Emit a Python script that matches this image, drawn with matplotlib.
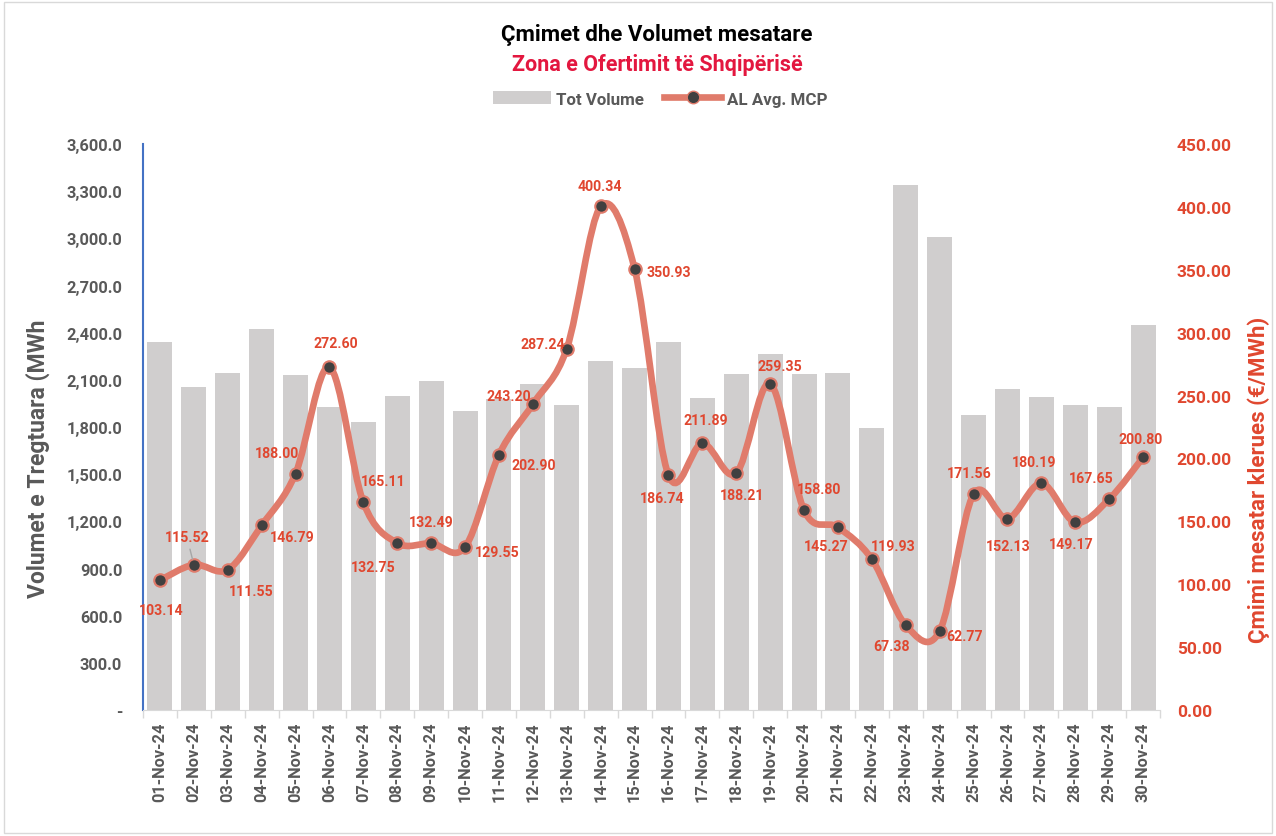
import matplotlib
matplotlib.use("Agg")
import matplotlib.pyplot as plt
import numpy as np
from matplotlib.path import Path
from matplotlib.patches import PathPatch, Patch, Rectangle
from matplotlib.lines import Line2D
from matplotlib.ticker import FuncFormatter, MultipleLocator

plt.rcParams['font.family'] = ['Roboto', 'DejaVu Sans']
plt.rcParams['font.weight'] = 'bold'
plt.rcParams['axes.labelweight'] = 'bold'

days = [f"{d:02d}-Nov-24" for d in range(1, 31)]
volume = [2341, 2055, 2144, 2424, 2131, 1927, 1832, 1997, 2093, 1902,
          1978, 2074, 1940, 2220, 2176, 2341, 1985, 2137, 2265, 2137,
          2144, 1794, 3340, 3009, 1877, 2042, 1991, 1940, 1927, 2449]
price = [103.14, 115.52, 111.55, 146.79, 188.00, 272.60, 165.11, 132.75, 132.49, 129.55,
         202.90, 243.20, 287.24, 400.34, 350.93, 186.74, 211.89, 188.21, 259.35, 158.80,
         145.27, 119.93, 67.38, 62.77, 171.56, 152.13, 180.19, 149.17, 167.65, 200.80]
# label offsets in pixels (dx, dy)
label_off = [(1, -30), (-7, 28), (23, -21), (31, -12), (-19, 21), (6, 24), (20, 21),
             (-24, -24), (0, 21), (32, -5), (35, -10), (-24, 8), (-24, 5), (-1, 20),
             (34, -3), (-6, -23), (3, 23), (6, -22), (10, 18), (15, 21), (-12, -19),
             (21, 13), (-14, -21), (25, -5), (-4, 21), (1, -27), (-7, 21), (-4, -22),
             (-18, 21), (-2, 18)]

GREY = '#595959'
RED = '#e0472f'
LINE = '#e07b6b'
BAR = '#d0cece'

fig = plt.figure(figsize=(12.76, 8.37), dpi=100)
fig.patches.append(Rectangle((0.003, 0.003), 0.994, 0.994, transform=fig.transFigure,
                             fill=False, edgecolor='#d9d9d9', linewidth=1))

ax = fig.add_axes([143 / 1276, 126 / 837, 1017 / 1276, 566 / 837])
x = np.arange(len(days))
ax.bar(x, volume, width=0.74, color=BAR, zorder=1)
ax.set_xlim(-0.5, len(days) - 0.5)
ax.set_ylim(0, 3600)
ax.yaxis.set_major_locator(MultipleLocator(300))
ax.yaxis.set_major_formatter(FuncFormatter(lambda v, p: '-' if v == 0 else f"{v:,.1f}"))
ax.tick_params(axis='y', length=0, pad=15, labelsize=11.8, labelcolor=GREY)
ax.set_xticks(x)
ax.set_xticklabels(days, rotation=90, fontsize=11.8, color=GREY, fontweight='bold')
ax.set_xticks(np.arange(-0.5, len(days)), minor=True)
ax.tick_params(axis='x', which='major', length=0, pad=8)
ax.tick_params(axis='x', which='minor', length=6, color='#d9d9d9', width=1)
for t in ax.get_yticklabels():
    t.set_fontweight('bold')
for s in ['top', 'right']:
    ax.spines[s].set_visible(False)
ax.spines['left'].set_color('#4472c4')
ax.spines['left'].set_linewidth(1.5)
ax.spines['bottom'].set_color('#d9d9d9')
ax.set_ylabel('Volumet e Tregtuara (MWh', fontsize=16.5, color=GREY, fontweight='bold')
ax.yaxis.set_label_coords(-0.0914, 0.445)

ax2 = ax.twinx()
ax2.set_ylim(0, 450)
ax2.yaxis.set_major_locator(MultipleLocator(50))
ax2.yaxis.set_major_formatter(FuncFormatter(lambda v, p: f"{v:.2f}"))
ax2.tick_params(axis='y', length=0, pad=12, labelsize=12.5, labelcolor=RED)
for t in ax2.get_yticklabels():
    t.set_fontweight('bold')
for s in ax2.spines.values():
    s.set_visible(False)
ax2.set_ylabel('Çmimi mesatar klerues (€/MWh)', fontsize=16, color=RED, fontweight='bold')
ax2.yaxis.set_label_coords(1.086, 0.408)

# smoothed line (Catmull-Rom style Bezier, like Excel smoothing)
pts = np.column_stack([x, price]).astype(float)
ext = np.vstack([pts[0], pts, pts[-1]])
verts = [tuple(pts[0])]
codes = [Path.MOVETO]
for i in range(len(pts) - 1):
    p0, p1, p2, p3 = ext[i], ext[i + 1], ext[i + 2], ext[i + 3]
    c1 = p1 + (p2 - p0) / 6
    c2 = p2 - (p3 - p1) / 6
    verts += [tuple(c1), tuple(c2), tuple(p2)]
    codes += [Path.CURVE4] * 3
ax2.add_patch(PathPatch(Path(verts, codes), facecolor='none', edgecolor=LINE,
                        linewidth=4.8, capstyle='round', joinstyle='round', zorder=3))
ax2.plot(x, price, linestyle='none', marker='o', markersize=9,
         markerfacecolor='#404040', markeredgecolor=LINE, markeredgewidth=1.5, zorder=4)

for i, (v, off) in enumerate(zip(price, label_off)):
    kw = {}
    if i == 1:
        kw['arrowprops'] = dict(arrowstyle='-', color='#a6a6a6', lw=1, shrinkA=2, shrinkB=4)
    ax2.annotate(f"{v:.2f}", (x[i], v), xytext=off, textcoords='offset pixels',
                 ha='center', va='center', fontsize=10.2, color=RED, fontweight='bold',
                 zorder=5, **kw)

fig.text(657 / 1276, 1 - 35 / 837, 'Çmimet dhe Volumet mesatare', ha='center', va='center',
         fontsize=16, color='black', fontweight='bold')
fig.text(657 / 1276, 1 - 65 / 837, 'Zona e Ofertimit të Shqipërisë', ha='center', va='center',
         fontsize=15.5, color='#e3173f', fontweight='bold')

handles = [Patch(facecolor=BAR, edgecolor='none'),
           Line2D([0], [0], color=LINE, linewidth=4.8, marker='o', markersize=9,
                  markerfacecolor='#404040', markeredgecolor=LINE)]
leg = fig.legend(handles, ['Tot Volume', 'AL Avg. MCP'], loc='center',
                 bbox_to_anchor=(660 / 1276, 1 - 100 / 837), ncol=2, frameon=False,
                 handlelength=3.4, handleheight=0.75, columnspacing=1.2,
                 handletextpad=0.3, prop={'weight': 'bold', 'size': 12.2})
for t in leg.get_texts():
    t.set_color(GREY)

fig.savefig('out.png', dpi=100)
